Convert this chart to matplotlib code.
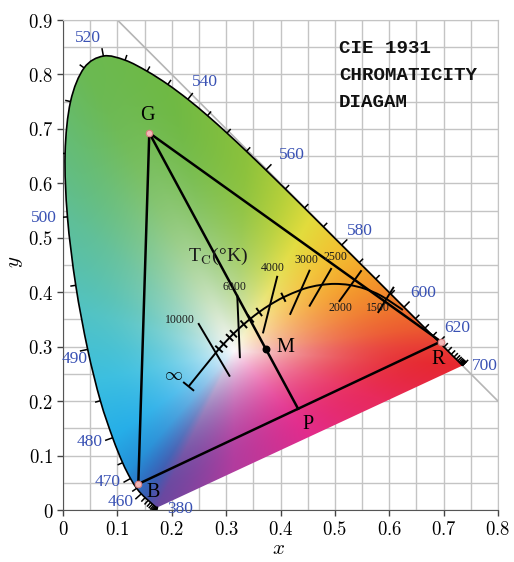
import numpy as np
import matplotlib
matplotlib.use("Agg")
import matplotlib.pyplot as plt
from matplotlib.patches import PathPatch
from matplotlib.path import Path
from matplotlib.collections import LineCollection
from matplotlib.ticker import MultipleLocator, FuncFormatter
from matplotlib.colors import to_rgb

plt.rcParams['mathtext.fontset'] = 'cm'

# ---------------- data ----------------
wl = np.arange(380, 705, 5)
loc_x = np.array([0.17411, 0.17401, 0.17380, 0.17356, 0.17334, 0.17302, 0.17258, 0.17209,
                  0.17141, 0.17030, 0.16888, 0.16690, 0.16441, 0.16110, 0.15664, 0.15099,
                  0.14396, 0.13550, 0.12412, 0.10959, 0.09129, 0.06871, 0.04539, 0.02346,
                  0.00817, 0.00386, 0.01387, 0.03885, 0.07430, 0.11416, 0.15472, 0.19288,
                  0.22962, 0.26578, 0.30160, 0.33736, 0.37310, 0.40874, 0.44406, 0.47877,
                  0.51249, 0.54479, 0.57515, 0.60293, 0.62704, 0.64823, 0.66576, 0.68008,
                  0.69150, 0.70061, 0.70792, 0.71403, 0.71903, 0.72303, 0.72599, 0.72827,
                  0.72997, 0.73109, 0.73199, 0.73272, 0.73342, 0.73405, 0.73439, 0.73459,
                  0.73469])
loc_y = np.array([0.00496, 0.00498, 0.00492, 0.00492, 0.00480, 0.00478, 0.00480, 0.00483,
                  0.00510, 0.00579, 0.00690, 0.00855, 0.01086, 0.01379, 0.01771, 0.02274,
                  0.02970, 0.03988, 0.05780, 0.08684, 0.13270, 0.20072, 0.29498, 0.41270,
                  0.53842, 0.65482, 0.75019, 0.81202, 0.83380, 0.82621, 0.80586, 0.78163,
                  0.75433, 0.72432, 0.69231, 0.65885, 0.62445, 0.58961, 0.55471, 0.52020,
                  0.48659, 0.45443, 0.42423, 0.39650, 0.37249, 0.35139, 0.33401, 0.31975,
                  0.30834, 0.29930, 0.29203, 0.28593, 0.28093, 0.27695, 0.27401, 0.27173,
                  0.27003, 0.26891, 0.26801, 0.26728, 0.26658, 0.26595, 0.26561, 0.26541,
                  0.26531])

label_wl = [380, 460, 470, 480, 490, 500, 520, 540, 560, 580, 600, 620, 700]

prim_names = ['G', 'R', 'B']
prim_x = [0.1587, 0.6949, 0.1385]
prim_y = [0.6925, 0.3094, 0.0478]
m_x, m_y = 0.3732, 0.2954

planck_T = ['inf', 10000, 9000, 8000, 7000, 6500, 6000, 5500, 5000, 4500, 4000, 3500,
            3000, 2750, 2500, 2250, 2000, 1750, 1500, 1200]
planck_x = [0.2310, 0.2807, 0.2869, 0.2952, 0.3064, 0.3135, 0.3221, 0.3325, 0.3451, 0.3608,
            0.3805, 0.4053, 0.4369, 0.4553, 0.4770, 0.5003, 0.5267, 0.5553, 0.5857, 0.6251]
planck_y = [0.2270, 0.2884, 0.2956, 0.3048, 0.3166, 0.3237, 0.3318, 0.3411, 0.3516, 0.3636,
            0.3768, 0.3907, 0.4041, 0.4097, 0.4137, 0.4153, 0.4133, 0.4063, 0.3931, 0.3674]
minor_T = [9000, 8000, 7000, 6500, 5500, 5000, 4500, 3500]

iso_T = [10000, 6000, 4000, 3000, 2500, 2000, 1500]
iso_x0 = [0.2487, 0.3204, 0.3943, 0.4540, 0.4939, 0.5491, 0.6085]
iso_y0 = [0.3432, 0.3952, 0.4301, 0.4412, 0.4443, 0.4403, 0.4099]
iso_x1 = [0.3070, 0.3254, 0.3676, 0.4173, 0.4528, 0.5074, 0.5790]
iso_y1 = [0.2450, 0.2789, 0.3244, 0.3585, 0.3737, 0.3824, 0.3620]
iso_labels = ['10000', '6000', '4000', '3000', '2500', '2000', '1500']

title_lines = ['CIE 1931', 'CHROMATICITY', 'DIAGAM']


def smooth_verts(xs, ys):
    """Catmull-Rom spline through the points, as cubic Bezier path pieces."""
    p = np.column_stack([xs, ys])
    n = len(p)
    verts = [p[0]]
    codes = [Path.MOVETO]
    for i in range(n - 1):
        p0 = p[max(i - 1, 0)]
        p1 = p[i]
        p2 = p[i + 1]
        p3 = p[min(i + 2, n - 1)]
        c1 = p1 + (p2 - p0) / 6.0
        c2 = p2 - (p3 - p1) / 6.0
        verts += [c1, c2, p2]
        codes += [Path.CURVE4] * 3
    return verts, codes


# ---------------- figure ----------------
fig = plt.figure(figsize=(5.14, 5.62), dpi=100)
ax = fig.add_axes([63/514, 52/562, 435/514, 490/562])
ax.set_xlim(0, 0.8)
ax.set_ylim(0, 0.9)
PX = 0.8/435.0  # data units per pixel

ax.xaxis.set_major_locator(MultipleLocator(0.1))
ax.yaxis.set_major_locator(MultipleLocator(0.1))
ax.xaxis.set_minor_locator(MultipleLocator(0.05))
ax.yaxis.set_minor_locator(MultipleLocator(0.05))
ax.grid(which='both', color='#c4c4c4', lw=1.0, zorder=0)
ax.set_axisbelow(True)
fmt = FuncFormatter(lambda v, p: '$0$' if abs(v) < 1e-9 else '$%.1f$' % v)
ax.xaxis.set_major_formatter(fmt)
ax.yaxis.set_major_formatter(fmt)
ax.tick_params(which='major', direction='out', length=4, width=1, color='#444444',
               labelsize=13.5, pad=3)
ax.tick_params(which='minor', length=0)
for s in ['left', 'bottom']:
    ax.spines[s].set_color('#555555')
for s in ['top', 'right']:
    ax.spines[s].set_color('#c4c4c4')

# diagonal x + y = 1
diag_x = np.array([0.1, 0.8])
ax.plot(diag_x, 1 - diag_x, color='#b5b5b5', lw=1.2, zorder=1)

# ---------------- color fill ----------------
Wp = np.array([0.315, 0.292])
white = np.array([0.985, 0.975, 0.985])
pl_t = np.linspace(0, 1, 80)
bx = np.concatenate([loc_x, loc_x[-1] + (loc_x[0] - loc_x[-1]) * pl_t])
by = np.concatenate([loc_y, loc_y[-1] + (loc_y[0] - loc_y[-1]) * pl_t])
b_ang = np.arctan2(by - Wp[1], bx - Wp[0])
b_rad = np.hypot(bx - Wp[0], by - Wp[1])
o = np.argsort(b_ang)
b_ang, b_rad = b_ang[o], b_rad[o]

anc_wl = [400, 455, 465, 472, 480, 487, 493, 500, 507, 515, 535, 555, 565, 572, 580, 588,
          598, 610, 625, 700]
anc_col = ['#6a48a0', '#3a5cb2', '#2f70c2', '#2590d8', '#26aee8', '#3cbfe0', '#52c3c4',
           '#5fbf98', '#66bc72', '#6bb952', '#6fb944', '#8cc23c', '#b6d03a', '#e2dc3c',
           '#f2c232', '#f4a02a', '#f07c2c', '#ec5a30', '#e83c34', '#e6282f']
anc_pf = [0.25, 0.5, 0.75]
anc_pcol = ['#e82a5c', '#e22c8c', '#b23c9e']
ax_ = np.concatenate([np.interp(anc_wl, wl, loc_x),
                      loc_x[-1] + (loc_x[0] - loc_x[-1]) * np.array(anc_pf)])
ay_ = np.concatenate([np.interp(anc_wl, wl, loc_y),
                      loc_y[-1] + (loc_y[0] - loc_y[-1]) * np.array(anc_pf)])
a_ang = np.arctan2(ay_ - Wp[1], ax_ - Wp[0])
a_col = np.array([to_rgb(c) for c in anc_col + anc_pcol])
o = np.argsort(a_ang)
a_ang, a_col = a_ang[o], a_col[o]

NW, NH = 435, 490
gx = np.linspace(0, 0.8, NW)
gy = np.linspace(0, 0.9, NH)
XX, YY = np.meshgrid(gx, gy)
th = np.arctan2(YY - Wp[1], XX - Wp[0])
rr = np.hypot(XX - Wp[0], YY - Wp[1])
R = np.interp(th, b_ang, b_rad, period=2*np.pi)
t = np.clip(rr / R, 0, 1)
s = 1 - (1 - t) ** 2.3
img = np.zeros((NH, NW, 3))
for c in range(3):
    bc = np.interp(th, a_ang, a_col[:, c], period=2*np.pi)
    img[..., c] = white[c] + s * (bc - white[c])
img = np.clip(img, 0, 1)
im = ax.imshow(img, extent=[0, 0.8, 0, 0.9], origin='lower', interpolation='bilinear',
               aspect='auto', zorder=2)

verts, codes = smooth_verts(loc_x, loc_y)
clip_path = Path(verts + [verts[0]], codes + [Path.CLOSEPOLY])
clip_patch = PathPatch(clip_path, transform=ax.transData, facecolor='none', edgecolor='none')
ax.add_patch(clip_patch)
im.set_clip_path(clip_patch)

# locus outline (smooth)
ax.add_patch(PathPatch(Path(verts, codes), facecolor='none', edgecolor='black', lw=1.2,
                       zorder=4, joinstyle='round'))

# ---------------- wavelength ticks ----------------
P = np.column_stack([loc_x, loc_y])
n = len(P)
center = np.array([0.33, 0.33])
segs = []
for i in range(n):
    k = 1
    while True:
        d = P[min(i + k, n - 1)] - P[max(i - k, 0)]
        if np.hypot(*d) > 0.006 or k > 12:
            break
        k += 1
    d = d / np.hypot(*d)
    nv = np.array([d[1], -d[0]])
    if np.dot(nv, P[i] - center) < 0:
        nv = -nv
    L = 8 if wl[i] in label_wl else 5.5
    segs.append([P[i], P[i] + nv * L * PX])
ax.add_collection(LineCollection(segs, colors='black', linewidths=1.1, zorder=4))

wl_off = {380: (22, -2), 460: (-21, -8), 470: (-23, -3), 480: (-23, -4), 490: (-13, -10),
          500: (-24, -1), 520: (-15, 18), 540: (17, 17), 560: (26, 15), 580: (18, 14),
          600: (19, 14), 620: (18, 14), 700: (22, 0)}
for w in label_wl:
    i = list(wl).index(w)
    ax.annotate(str(w), xy=(loc_x[i], loc_y[i]), xytext=wl_off[w], textcoords='offset pixels',
                ha='center', va='center', fontsize=12.5, color='#3a52b4',
                family='Liberation Serif', zorder=6, annotation_clip=False)

# ---------------- triangle ----------------
gxp, gyp = prim_x[0], prim_y[0]
rxp, ryp = prim_x[1], prim_y[1]
bxp, byp = prim_x[2], prim_y[2]
ax.plot([gxp, rxp, bxp, gxp], [gyp, ryp, byp, gyp], color='black', lw=1.8, zorder=5,
        solid_joinstyle='miter')
# P = intersection of G-M line with B-R line
d1 = np.array([m_x - gxp, m_y - gyp])
d2 = np.array([rxp - bxp, ryp - byp])
A = np.array([[d1[0], -d2[0]], [d1[1], -d2[1]]])
sol = np.linalg.solve(A, np.array([bxp - gxp, byp - gyp]))
p_x, p_y = gxp + sol[0] * d1[0], gyp + sol[0] * d1[1]
ax.plot([gxp, p_x], [gyp, p_y], color='black', lw=1.8, zorder=5)
ax.scatter(prim_x, prim_y, s=22, facecolor='#f2b8b8', edgecolor='#d98080', lw=0.8, zorder=7)
ax.scatter([m_x], [m_y], s=22, color='black', zorder=7)

lab_font = dict(fontsize=14.5, family='Liberation Serif', ha='center', va='center', zorder=8)
for name, x, y, off in zip(prim_names + ['M', 'P'], prim_x + [m_x, p_x], prim_y + [m_y, p_y],
                           [(-2, 17), (-3, -18), (15, -9), (19, 2), (10, -16)]):
    ax.annotate(name, xy=(x, y), xytext=off, textcoords='offset pixels', **lab_font)

# ---------------- Planckian locus ----------------
pverts, pcodes = smooth_verts(planck_x, planck_y)
ax.add_patch(PathPatch(Path(pverts, pcodes), facecolor='none', edgecolor='black', lw=1.4,
                       zorder=5))
PP = np.column_stack([planck_x, planck_y])
tsegs = []
for T in minor_T + ['inf']:
    i = planck_T.index(T)
    j0, j1 = max(i - 1, 0), min(i + 1, len(PP) - 1)
    d = PP[j1] - PP[j0]
    d = d / np.hypot(*d)
    nv = np.array([-d[1], d[0]])
    h = 7 if T == 'inf' else 5
    tsegs.append([PP[i] - nv * h * PX, PP[i] + nv * h * PX])
for k in range(len(iso_T)):
    tsegs.append([(iso_x0[k], iso_y0[k]), (iso_x1[k], iso_y1[k])])
ax.add_collection(LineCollection(tsegs, colors='black', linewidths=1.4, zorder=5))

iso_lab_pos = [(0.2151, 0.3493), (0.3162, 0.4099), (0.3860, 0.4449), (0.4467, 0.4596),
               (0.5018, 0.4651), (0.5110, 0.3713), (0.5790, 0.3713)]
for lab, (x, y) in zip(iso_labels, iso_lab_pos):
    ax.text(x, y, lab, fontsize=8.5, family='Liberation Serif', ha='center', va='center',
            color='#1a1a1a', zorder=6)
ax.text(0.2040, 0.2482, r'$\infty$', fontsize=13, ha='center', va='center', zorder=6)
ax.text(0.2849, 0.4651, r'T$_{\mathrm{C}}$(°K)', fontsize=14, family='Liberation Serif',
        ha='center', va='center', color='#1a1a1a', zorder=6)

# ---------------- title block ----------------
for k, line in enumerate(title_lines):
    ax.text(0.5074, 0.8474 - k * 0.0496, line, fontsize=13.8, family='Liberation Mono',
            fontweight='bold', ha='left', va='center', color='#111111', zorder=6)

fig.text(279/514, 1 - 548/562, '$x$', fontsize=15, ha='center', va='center')
fig.text(15/514, 1 - 262/562, '$y$', fontsize=15, ha='center', va='center', rotation=90)

fig.savefig('out.png', dpi=100)
